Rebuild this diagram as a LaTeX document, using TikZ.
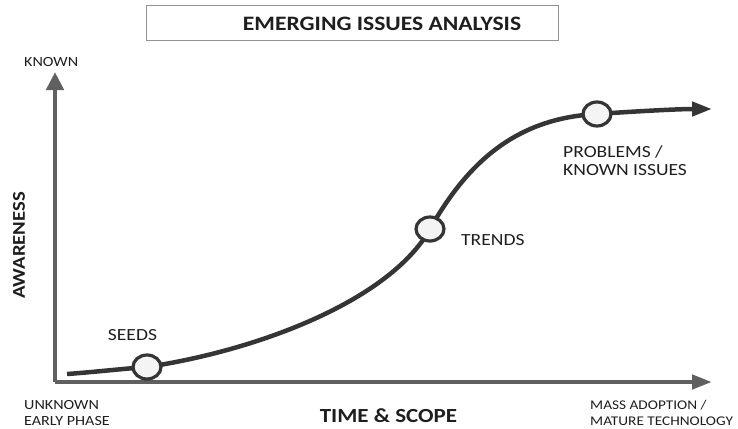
\documentclass[tikz,border=0pt]{standalone}
\usepackage{fontspec}
\setmainfont[FakeStretch=1.15]{Carlito}
\usetikzlibrary{arrows.meta,shapes.geometric}
\definecolor{axisgray}{HTML}{606060}
\definecolor{curvegray}{HTML}{353535}
\definecolor{txt}{HTML}{1E1E1E}
\definecolor{dotfill}{HTML}{F4F4F4}
\pgfdeclarelayer{bg}
\pgfsetlayers{bg,main}
\tikzset{
  axisline/.style={draw=axisgray, line width=4.5pt},
  curveline/.style={draw=curvegray, line width=4.5pt},
  stagedot/.style={ellipse, draw=curvegray, line width=3.2pt, fill=dotfill, minimum width=28pt, minimum height=24pt, inner sep=0pt},
  endlbl/.style={font=\fontsize{14}{16}\selectfont, text=txt, inner sep=0pt, align=left},
  stagelbl/.style={font=\fontsize{17}{18}\selectfont, text=txt, inner sep=0pt, align=left},
  boldlbl/.style={font=\fontsize{20}{22}\selectfont\bfseries, text=txt, inner sep=0pt}
}
\begin{document}
\begin{tikzpicture}[x=1pt, y=-1pt]
\useasboundingbox (0,0) rectangle (738,428);
% title
\node[draw=gray!85, line width=1pt, minimum width=412pt, minimum height=35.5pt, inner sep=0pt] (title) at (352,23) {};
\node[font=\fontsize{20.5}{22}\selectfont\bfseries, text=txt, inner sep=0pt] (titletext) at (382,24) {EMERGING ISSUES ANALYSIS};
% axes
\coordinate (origin) at (55,382);
\coordinate (ytop) at (55,72);
\coordinate (xend) at (712,382);
\draw[axisline, -{Triangle[width=17pt,length=18pt]}] (origin) -- (ytop);
\draw[axisline, -{Triangle[width=14pt,length=20pt]}] (origin) -- (xend);
% stages
\coordinate (cstart) at (67,374);
\coordinate (cend) at (712,109);
\node[stagedot] (seeds) at (147,367) {};
\node[stagedot] (trends) at (430,229) {};
\node[stagedot] (problems) at (597,114) {};
\begin{pgfonlayer}{bg}
\draw[curveline] (cstart) .. controls (95,372) and (120,369) .. (seeds.center);
\draw[curveline] (seeds.center) .. controls (260,350) and (390,300) .. (trends.center);
\draw[curveline] (trends.center) .. controls (470,158) and (520,118) .. (problems.center);
\draw[curveline, -{Triangle[width=14pt,length=20pt]}] (problems.center) .. controls (640,111) and (680,109) .. (cend);
\end{pgfonlayer}
% labels
\node[endlbl, anchor=north west] (known) at (24,57) {KNOWN};
\node[endlbl, anchor=north west] (unknown) at (24,400) {UNKNOWN\\EARLY PHASE};
\node[endlbl, anchor=north west, font=\fontsize{13.3}{16}\selectfont] (mass) at (590,400) {MASS ADOPTION /\\MATURE TECHNOLOGY};
\node[stagelbl, anchor=south] (seedslbl) at (132.5,341) {SEEDS};
\node[stagelbl, anchor=west] (trendslbl) at (461,240.5) {TRENDS};
\node[stagelbl, anchor=north west] (problbl) at (563,145) {PROBLEMS /\\KNOWN ISSUES};
\node[boldlbl] (timelbl) at (388.5,416) {TIME \& SCOPE};
\node[font=\fontsize{18}{20}\selectfont\bfseries, text=txt, inner sep=0pt, rotate=90] (awarelbl) at (19,245.5) {AWARENESS};
\end{tikzpicture}
\end{document}
